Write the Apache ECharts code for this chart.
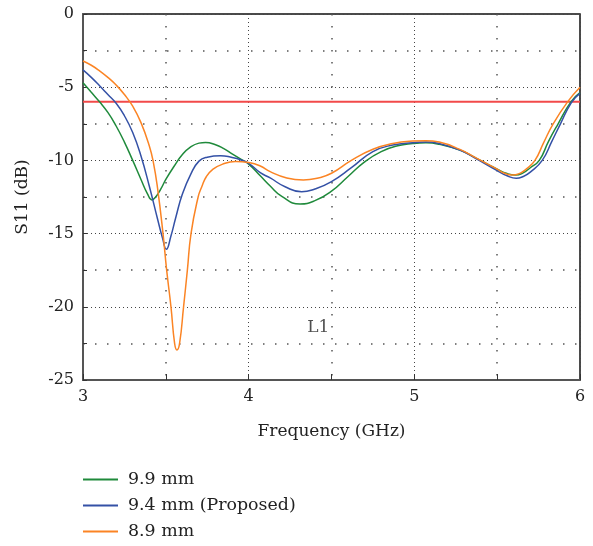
<!DOCTYPE html>
<html>
<head>
<meta charset="utf-8">
<script src="https://cdn.jsdelivr.net/npm/echarts@6/dist/echarts.min.js"></script>
<style>html,body{margin:0;padding:0;background:#fff;}#c{width:593px;height:546px;}</style>
</head>
<body>
<div id="c"></div>
<script>
// ---- data ----
const seriesNames = ['9.9 mm', '9.4 mm (Proposed)', '8.9 mm'];

const freqGreen = [3.00,3.05,3.10,3.15,3.20,3.25,3.30,3.35,3.39,3.416,3.44,3.47,3.50,3.55,3.60,3.65,3.70,3.74,3.80,3.85,3.90,3.95,4.00,4.07,4.13,4.20,4.31,4.40,4.50,4.60,4.70,4.80,4.90,4.99,5.07,5.15,5.275,5.375,5.45,5.50,5.56,5.61,5.657,5.70,5.754,5.81,5.868,5.945,6.00];
const s11Green  = [-4.69,-5.35,-6.0,-6.72,-7.65,-8.75,-10.0,-11.3,-12.3,-12.7,-12.48,-11.95,-11.3,-10.4,-9.6,-9.08,-8.82,-8.77,-8.93,-9.2,-9.55,-9.9,-10.25,-11.05,-11.75,-12.45,-12.98,-12.75,-12.1,-11.1,-10.1,-9.4,-9.0,-8.85,-8.8,-8.9,-9.3,-9.86,-10.3,-10.6,-10.9,-11.0,-10.85,-10.5,-10.0,-8.7,-7.5,-6.0,-5.37];

const freqBlue = [3.00,3.05,3.10,3.15,3.20,3.25,3.30,3.35,3.40,3.45,3.48,3.503,3.53,3.56,3.60,3.65,3.70,3.75,3.83,3.90,3.95,4.00,4.07,4.13,4.22,4.32,4.40,4.50,4.62,4.75,4.87,4.99,5.07,5.15,5.275,5.375,5.50,5.56,5.615,5.657,5.70,5.772,5.83,5.882,5.948,6.00];
const s11Blue  = [-3.82,-4.33,-4.9,-5.5,-6.1,-6.95,-8.1,-9.7,-11.75,-14.0,-15.3,-16.07,-15.2,-13.9,-12.3,-10.95,-10.05,-9.78,-9.68,-9.8,-9.95,-10.2,-10.84,-11.2,-11.8,-12.14,-11.95,-11.45,-10.5,-9.4,-8.95,-8.79,-8.75,-8.85,-9.29,-9.9,-10.7,-11.05,-11.22,-11.1,-10.8,-10.0,-8.7,-7.5,-6.05,-5.42];

const freqOrange = [3.00,3.05,3.10,3.15,3.20,3.25,3.30,3.35,3.40,3.425,3.45,3.483,3.505,3.531,3.553,3.567,3.583,3.607,3.63,3.652,3.695,3.717,3.745,3.785,3.84,3.92,4.00,4.07,4.13,4.23,4.33,4.42,4.50,4.62,4.75,4.87,4.99,5.07,5.15,5.275,5.375,5.50,5.545,5.59,5.63,5.675,5.728,5.78,5.838,5.925,6.00];
const s11Orange  = [-3.21,-3.5,-3.88,-4.33,-4.85,-5.5,-6.3,-7.42,-9.0,-10.15,-11.9,-15.0,-17.5,-20.0,-22.5,-22.95,-22.5,-20.0,-17.5,-15.0,-12.5,-11.8,-11.1,-10.6,-10.27,-10.08,-10.15,-10.38,-10.77,-11.2,-11.34,-11.2,-10.88,-10.0,-9.24,-8.85,-8.68,-8.65,-8.75,-9.25,-9.85,-10.6,-10.88,-11.0,-10.92,-10.6,-10.0,-8.8,-7.5,-6.0,-5.0];

const limitFreq = [3, 6];
const limitS11 = [-6, -6];

const annotFreq = [4.42];
const annotS11 = [-21.4];
const annotText = ['L1'];

const xTicks = [3, 4, 5, 6];
const yTicks = [-25, -20, -15, -10, -5, 0];

// ---- chart ----
const zip = (a, b) => a.map((v, i) => [v, b[i]]);
const FONT = 'DejaVu Serif';
const colors = ['#1f8a3b', '#3451a6', '#fb8424'];
const chart = echarts.init(document.getElementById('c'), null, {renderer: 'canvas'});

const curveSeries = [zip(freqGreen, s11Green), zip(freqBlue, s11Blue), zip(freqOrange, s11Orange)].map((d, i) => ({
  name: seriesNames[i], type: 'line', data: d, smooth: 0.5, symbol: 'none',
  lineStyle: {color: colors[i], width: 1.5}, itemStyle: {color: colors[i]},
  z: 3 + i, emphasis: {disabled: true}
}));

chart.setOption({
  animation: false,
  backgroundColor: '#fff',
  grid: {left: 83, right: 13, top: 14, bottom: 166, show: true, borderColor: '#111', borderWidth: 1.5, backgroundColor: 'transparent'},
  xAxis: {
    type: 'value', min: xTicks[0], max: xTicks[xTicks.length - 1], interval: 1,
    name: 'Frequency (GHz)', nameLocation: 'middle', nameGap: 43,
    nameTextStyle: {fontFamily: FONT, fontSize: 17, color: '#222'},
    axisLine: {show: true, onZero: false, lineStyle: {color: '#555', width: 2}},
    axisTick: {show: true, inside: true, length: 6, lineStyle: {color: '#333'}},
    minorTick: {show: true, splitNumber: 2, length: 6, lineStyle: {color: '#333'}},
    axisLabel: {fontFamily: FONT, fontSize: 16, color: '#222', margin: 9},
    splitLine: {show: true, lineStyle: {color: '#444', width: 1, type: [1, 3]}},
    minorSplitLine: {show: true, lineStyle: {color: '#555', width: 1.5, type: [1.5, 10.5]}}
  },
  yAxis: {
    type: 'value', min: yTicks[0], max: yTicks[yTicks.length - 1], interval: 5,
    name: 'S11 (dB)', nameLocation: 'middle', nameGap: 52, nameRotate: 90,
    nameTextStyle: {fontFamily: FONT, fontSize: 17, color: '#222'},
    axisLine: {show: true, onZero: false, lineStyle: {color: '#555', width: 2}},
    axisTick: {show: true, inside: true, length: 4, lineStyle: {color: '#333'}},
    minorTick: {show: true, splitNumber: 2, length: 4, lineStyle: {color: '#333'}},
    axisLabel: {fontFamily: FONT, fontSize: 16, color: '#222', margin: 9},
    splitLine: {show: true, lineStyle: {color: '#444', width: 1, type: [1, 3]}},
    minorSplitLine: {show: true, lineStyle: {color: '#555', width: 1.5, type: [1.5, 10.5]}}
  },
  legend: {
    data: seriesNames.map((n) => ({name: n, icon: 'rect'})), orient: 'vertical', left: 78, top: 465,
    itemWidth: 35, itemHeight: 2, itemGap: 7,
    textStyle: {fontFamily: FONT, fontSize: 17.4, color: '#222', padding: [0, 0, 0, 5], lineHeight: 19},
    selectedMode: false
  },
  series: [
    {name: 'limit', type: 'line', data: zip(limitFreq, limitS11), symbol: 'none',
     lineStyle: {color: '#f24a4a', width: 2}, z: 2, silent: true},
    ...curveSeries,
    {name: 'annot', type: 'scatter', data: zip(annotFreq, annotS11), symbolSize: 0, silent: true,
     label: {show: true, position: 'inside', formatter: (p) => annotText[p.dataIndex],
             fontFamily: FONT, fontSize: 17, color: '#222'}}
  ]
});
</script>
</body>
</html>
